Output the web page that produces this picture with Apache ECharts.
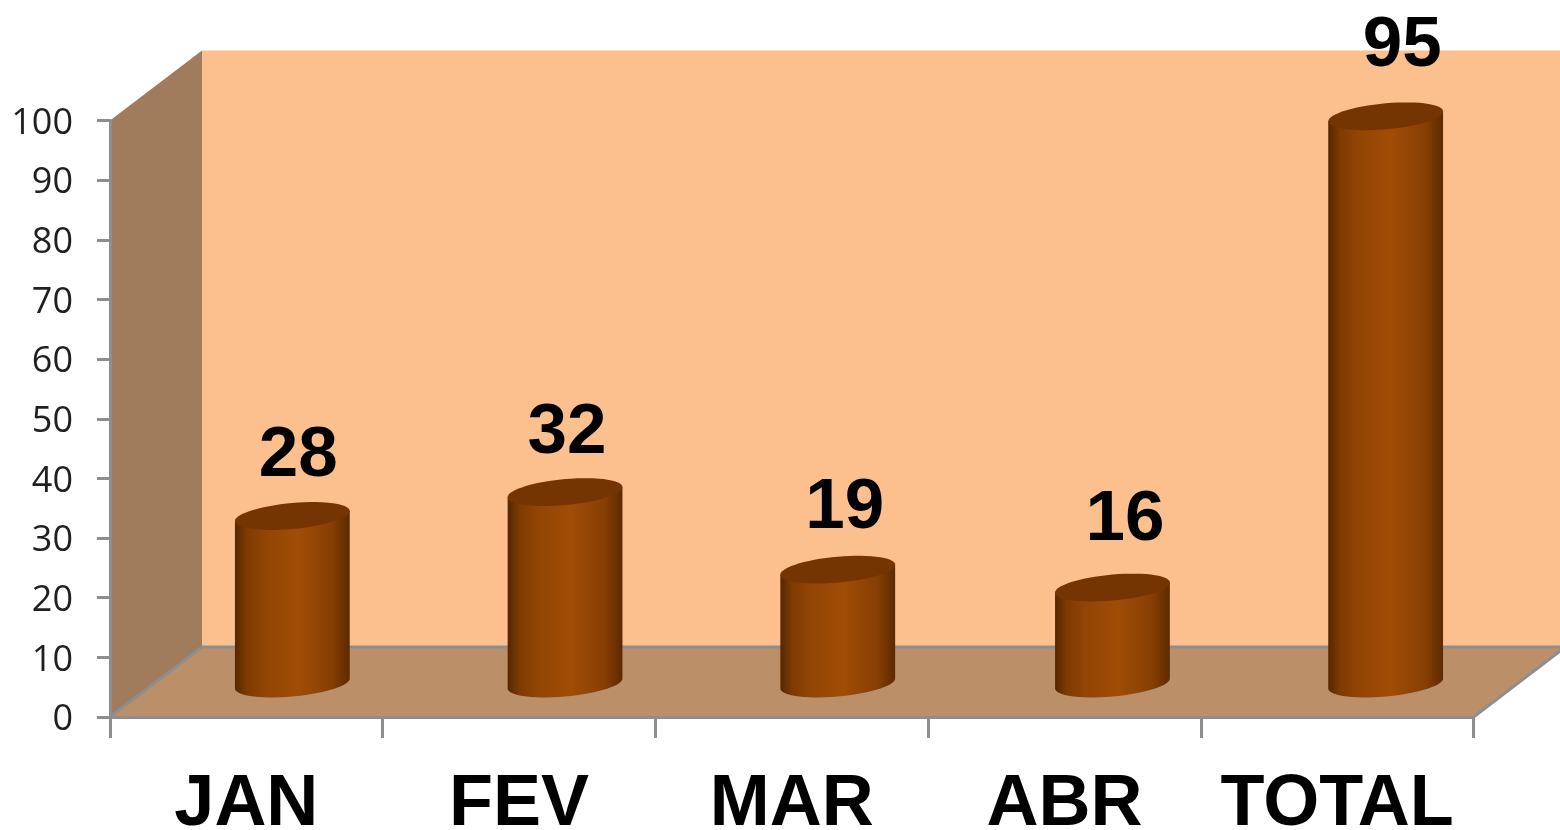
<!DOCTYPE html>
<html>
<head>
<meta charset="utf-8">
<style>html,body{margin:0;padding:0;background:#fff}#c{width:1560px;height:830px}</style>
<script src="https://cdn.jsdelivr.net/npm/echarts@6/dist/echarts.min.js"></script>
</head>
<body>
<div id="c"></div>
<script>
const categories = ['JAN', 'FEV', 'MAR', 'ABR', 'TOTAL'];
const values = [28, 32, 19, 16, 95];
const yMin = 0;
const yMax = 100;
const yStep = 10;

// Presentation only
const DEPTH_X = 92, DEPTH_Y = 70;
const GRAY = '#8e8e8e';
const barShiftX = [0, 0, 0, 2, 2.5];
const labelShiftX = [6, 2, 7, 12.5, 16.5];
const labelShiftY = [-60, -59, -61, -67, -70];

const chart = echarts.init(document.getElementById('c'), null, {renderer: 'canvas'});

function renderWalls(params, api) {
  const cs = params.coordSys;
  const l = cs.x, r = cs.x + cs.width, t = api.coord([0, yMax])[1], b = api.coord([0, yMin])[1];
  const poly = (pts, fill) => ({type: 'polygon', shape: {points: pts}, style: {fill: fill}});
  const line = (x1, y1, x2, y2) => ({type: 'line', shape: {x1, y1, x2, y2}, style: {stroke: GRAY, lineWidth: 3}});
  return {type: 'group', children: [
    poly([[l + DEPTH_X, t - DEPTH_Y], [r + DEPTH_X, t - DEPTH_Y], [r + DEPTH_X, b - DEPTH_Y], [l + DEPTH_X, b - DEPTH_Y]], '#fcc08f'),
    poly([[l, t], [l + DEPTH_X, t - DEPTH_Y], [l + DEPTH_X, b - DEPTH_Y], [l, b]], '#a07c5c'),
    poly([[l, b], [l + DEPTH_X, b - DEPTH_Y], [r + DEPTH_X, b - DEPTH_Y], [r, b]], '#bb9069'),
    line(l, b, l + DEPTH_X, b - DEPTH_Y),
    line(l + DEPTH_X, b - DEPTH_Y, r + DEPTH_X, b - DEPTH_Y),
    line(r, b, r + DEPTH_X, b - DEPTH_Y)
  ]};
}

function renderCylinder(params, api) {
  const i = api.value(0), v = api.value(1);
  const band = api.size([1, 0])[0];
  const a = band * 0.2105, s = 5, e = 13;
  const front = api.coord([i, 0]);
  const cx = front[0] + DEPTH_X / 2 + barShiftX[i];
  const baseY = front[1] - 33.5;
  const topY = api.coord([i, v])[1] - 34;
  const lower = [], whole = [];
  for (let d = 180; d <= 360; d += 6) {
    const q = d * Math.PI / 180;
    lower.push([cx + a * Math.cos(q), baseY - s * Math.cos(q) - e * Math.sin(q)]);
  }
  for (let d = 0; d < 360; d += 6) {
    const q = d * Math.PI / 180;
    whole.push([cx + a * Math.cos(q), topY - s * Math.cos(q) - e * Math.sin(q)]);
  }
  const body = lower.concat([[cx + a, topY - s], [cx - a, topY + s]]);
  return {type: 'group', children: [
    {type: 'polygon', shape: {points: body}, style: {
      fill: new echarts.graphic.LinearGradient(0, 0, 1, 0, [
        {offset: 0, color: '#552700'},
        {offset: 0.1, color: '#7d3a02'},
        {offset: 0.25, color: '#914404'},
        {offset: 0.55, color: '#a04d06'},
        {offset: 0.85, color: '#863e03'},
        {offset: 1, color: '#5c2a00'}
      ])
    }},
    {type: 'polygon', shape: {points: whole}, style: {fill: '#753502'}},
    {type: 'text', style: {
      x: cx + labelShiftX[i], y: topY + labelShiftY[i],
      text: String(v), fill: '#000',
      font: 'bold 71px "Liberation Sans", Arial, sans-serif',
      align: 'center', verticalAlign: 'middle'
    }}
  ]};
}

chart.setOption({
  animation: false,
  backgroundColor: '#ffffff',
  grid: {left: 110, right: 86.5, top: 120.5, bottom: 113, outerBoundsMode: 'none'},
  xAxis: {
    type: 'category', data: categories, z: 5,
    axisLine: {lineStyle: {color: GRAY, width: 3}},
    axisTick: {show: true, length: 21, lineStyle: {color: GRAY, width: 3}},
    axisLabel: {interval: 0, margin: 52, color: '#000', fontFamily: '"Liberation Sans", Arial, sans-serif', fontWeight: 'bold', fontSize: 72},
    splitLine: {show: false}
  },
  yAxis: {
    type: 'value', min: yMin, max: yMax, interval: yStep, z: 5,
    axisLine: {show: true, lineStyle: {color: GRAY, width: 3}},
    axisTick: {show: true, length: 13, lineStyle: {color: GRAY, width: 3}},
    axisLabel: {margin: 37, verticalAlign: 'top', lineHeight: 6, color: '#1f1f1f', fontFamily: '"Open Sans", sans-serif', fontSize: 36},
    splitLine: {show: false}
  },
  series: [
    {type: 'custom', z: 1, silent: true, renderItem: renderWalls, data: [[0, 0]], clip: false},
    {type: 'custom', z: 10, silent: true, renderItem: renderCylinder,
     encode: {x: 0, y: 1}, data: values.map((v, i) => [i, v]), clip: false}
  ]
});
</script>
</body>
</html>
